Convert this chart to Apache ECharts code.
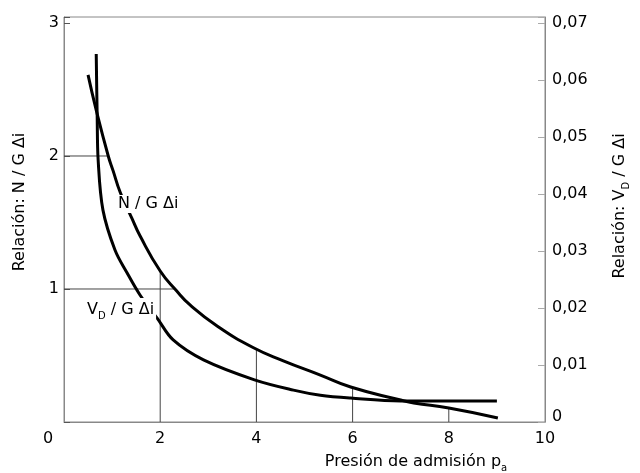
<!DOCTYPE html>
<html><head><meta charset="utf-8">
<script src="https://cdn.jsdelivr.net/npm/echarts@6/dist/echarts.min.js"></script>
<style>html,body{margin:0;padding:0;background:#fff}#c{width:640px;height:473px}</style>
</head><body><div id="c"></div>
<script>
// N / G Δi  (left axis)
const curveN = [[0.50,2.61],[0.67,2.345],[0.92,2.00],[1.02,1.89],[1.17,1.725],[1.41,1.533],[1.58,1.40],[2.00,1.135],[2.33,0.99],[2.62,0.88],[3.19,0.72],[3.94,0.558],[4.56,0.46],[5.33,0.353],[5.96,0.263],[7.00,0.165],[7.27,0.143],[8.00,0.105],[9.02,0.030]];
// V_D / G Δi (right axis)
const curveVD = [[0.67,0.0646],[0.69,0.0535],[0.71,0.0460],[0.81,0.0372],[1.06,0.0302],[1.31,0.0262],[1.58,0.0223],[1.94,0.0182],[2.27,0.0144],[2.90,0.0109],[3.96,0.0074],[4.77,0.0056],[5.33,0.0047],[5.96,0.0042],[7.00,0.0037],[9.00,0.0037]];
// reference (drop) lines to curve N
const hDropY = [2, 1];
const hDropX = [0.92, 2.31];
const vDropX = [2, 4, 6, 8];
const vDropY = [1.135, 0.55, 0.263, 0.105];

const FONT = 'DejaVu Sans';
const chart = echarts.init(document.getElementById('c'), null, {renderer: 'canvas'});

const dropSeries = [];
hDropY.forEach((y, i) => dropSeries.push({
  type: 'line', yAxisIndex: 0, symbol: 'none', silent: true,
  lineStyle: {color: '#444', width: 1}, data: [[0, y], [hDropX[i], y]], z: 1
}));
vDropX.forEach((x, i) => dropSeries.push({
  type: 'line', yAxisIndex: 0, symbol: 'none', silent: true,
  lineStyle: {color: '#444', width: 1}, data: [[x, 0], [x, vDropY[i]]], z: 1
}));

const isMultiple = (v, step) => Math.abs(v / step - Math.round(v / step)) < 1e-6;
const subRich = {
  a: {fontFamily: FONT, fontSize: 16, fill: '#000', lineHeight: 22, verticalAlign: 'middle'},
  s: {fontFamily: FONT, fontSize: 10, fill: '#000', lineHeight: 22, verticalAlign: 'bottom'}
};

const option = {
  animation: false,
  backgroundColor: '#fff',
  grid: {left: 64, right: 95, top: 17, bottom: 51, show: true, borderColor: '#888', borderWidth: 1},
  xAxis: {
    type: 'value', min: 0, max: 10, interval: 2,
    axisLine: {show: true, lineStyle: {color: '#888'}},
    axisTick: {show: false},
    splitLine: {show: false},
    axisLabel: {
      color: '#000', fontFamily: FONT, fontSize: 16, margin: 9,
      formatter: v => v === 0 ? '{z|0}' : String(v),
      rich: {z: {fontFamily: FONT, fontSize: 16, color: '#000', padding: [0, 32, 0, 0]}}
    }
  },
  yAxis: [{
    type: 'value', min: 0, max: 3.045, interval: 1, position: 'left',
    axisLine: {show: true, lineStyle: {color: '#888'}},
    axisTick: {show: true, inside: true, length: 6, lineStyle: {color: '#555'}},
    splitLine: {show: false},
    axisLabel: {color: '#000', fontFamily: FONT, fontSize: 16, margin: 5,
      formatter: v => (v === 0 || !isMultiple(v, 1)) ? '' : String(Math.round(v))}
  }, {
    type: 'value', min: 0, max: 0.0711, interval: 0.01, position: 'right',
    axisLine: {show: true, lineStyle: {color: '#888'}},
    axisTick: {show: true, inside: true, length: 7, lineStyle: {color: '#aaa'}},
    splitLine: {show: false},
    axisLabel: {
      color: '#000', fontFamily: FONT, fontSize: 16, margin: 7,
      formatter: v => {
        if (v === 0) return '{z|0}';
        if (!isMultiple(v, 0.01)) return '';
        return v.toFixed(2).replace('.', ',');
      },
      rich: {z: {fontFamily: FONT, fontSize: 16, color: '#000', padding: [0, 0, 10, 0]}}
    }
  }],
  series: dropSeries.concat([
    {type: 'line', name: 'N / G Δi', yAxisIndex: 0, symbol: 'none', smooth: 0.5,
     lineStyle: {color: '#000', width: 3}, data: curveN, z: 5},
    {type: 'line', name: 'V_D / G Δi', yAxisIndex: 1, symbol: 'none', smooth: 0.35,
     lineStyle: {color: '#000', width: 3}, data: curveVD, z: 5}
  ]),
  graphic: [
    {type: 'text', z: 100, left: 116, top: 195,
     style: {text: 'N / G Δi', fontFamily: FONT, fontSize: 16, fill: '#000', backgroundColor: '#fff', padding: [1, 2]}},
    {type: 'text', z: 100, left: 85, top: 298,
     style: {text: '{a|V}{s|D}{a| / G Δi}', backgroundColor: '#fff', padding: [1, 2], rich: subRich}},
    {type: 'text', z: 100, x: 20, y: 202, rotation: Math.PI / 2,
     style: {text: 'Relación: N / G Δi', fontFamily: FONT, fontSize: 16, fill: '#000', align: 'center', verticalAlign: 'middle'}},
    {type: 'text', z: 100, x: 620, y: 206, rotation: Math.PI / 2,
     style: {text: '{a|Relación: V}{s|D}{a| / G Δi}', align: 'center', verticalAlign: 'middle', rich: subRich}},
    {type: 'text', z: 100, x: 416, y: 462,
     style: {text: '{a|Presión de admisión p}{s|a}', align: 'center', verticalAlign: 'middle', rich: subRich}}
  ]
};
chart.setOption(option);
</script></body></html>
